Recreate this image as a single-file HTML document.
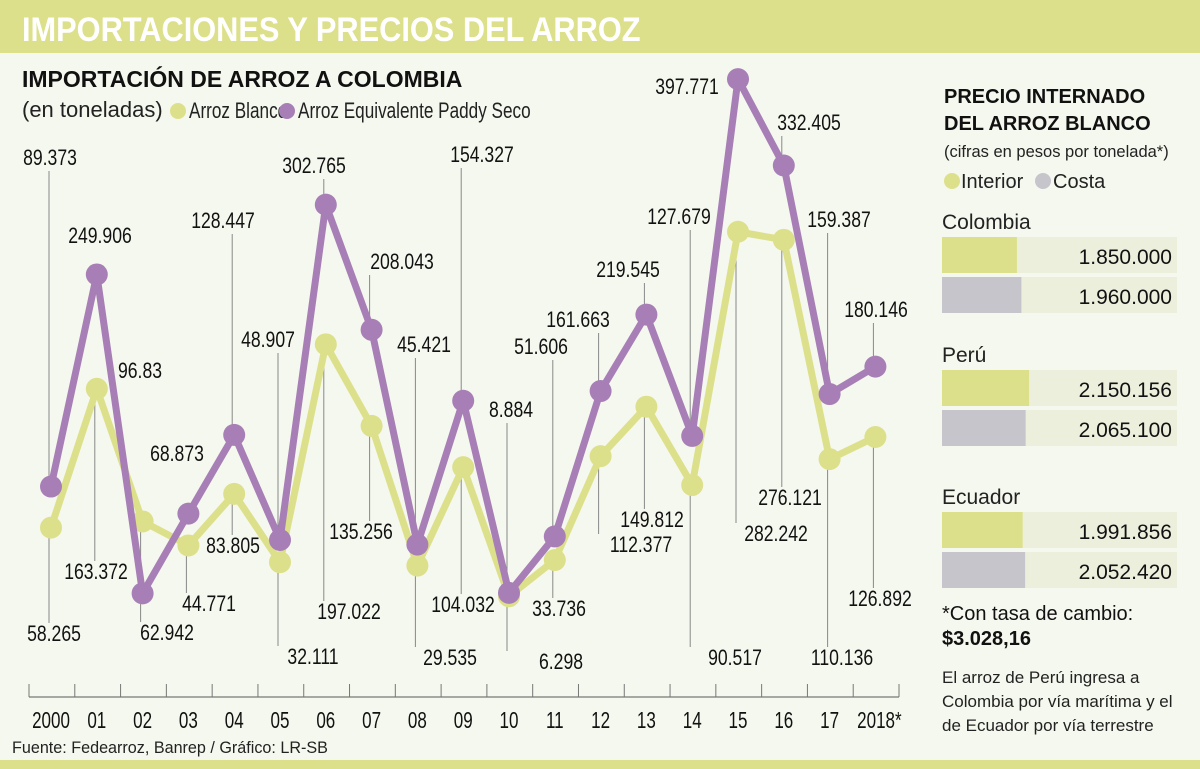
<!DOCTYPE html>
<html><head><meta charset="utf-8">
<style>
html,body{margin:0;padding:0;}
body{width:1200px;height:769px;background:#f5f8ee;position:relative;overflow:hidden;font-family:"Liberation Sans",sans-serif;}
svg{position:absolute;left:0;top:0;}
</style></head>
<body>
<svg id="chart" width="1200" height="769" viewBox="0 0 1200 769" font-family="'Liberation Sans',sans-serif">
<rect x="0" y="0" width="1200" height="53" fill="#dde08a"/>
<text transform="translate(22,41) scale(0.905,1)" font-weight="bold" font-size="34" fill="#fff">IMPORTACIONES Y PRECIOS DEL ARROZ</text>
<rect x="0" y="760" width="1200" height="9" fill="#dde08a"/>
<text x="22" y="87" font-weight="bold" font-size="23" fill="#111">IMPORTACIÓN DE ARROZ A COLOMBIA</text>
<text x="22" y="117" font-size="22" fill="#222">(en toneladas)</text>
<circle cx="178" cy="111" r="8" fill="#dde08a"/>
<text transform="translate(189,118) scale(0.78,1)" font-size="22" fill="#222">Arroz Blanco</text>
<circle cx="287" cy="111" r="8" fill="#a77fb6"/>
<text transform="translate(298,118) scale(0.78,1)" font-size="22" fill="#222">Arroz Equivalente Paddy Seco</text>
<g id="plot"></g>
<text transform="translate(12,753) scale(0.95,1)" font-size="17" fill="#222">Fuente: Fedearroz, Banrep  / Gráfico: LR-SB</text>

<g>
<text x="944" y="103" font-weight="bold" font-size="20" fill="#111">PRECIO INTERNADO</text>
<text x="944" y="130" font-weight="bold" font-size="20" fill="#111">DEL ARROZ BLANCO</text>
<text x="944" y="157" font-size="16.5" fill="#222">(cifras en pesos por tonelada*)</text>
<circle cx="952" cy="181" r="8" fill="#dde08a"/>
<text x="961" y="188" font-size="20" fill="#222">Interior</text>
<circle cx="1043" cy="181" r="8" fill="#c5c5cb"/>
<text x="1053" y="188" font-size="20" fill="#222">Costa</text>
<g id="prices"></g>
<text x="942" y="620" font-size="20" fill="#111">*Con tasa de cambio:</text>
<text x="942" y="645" font-weight="bold" font-size="20" fill="#111">$3.028,16</text>
<text x="942" y="683" font-size="17" fill="#222">El arroz de Perú ingresa a</text>
<text x="942" y="707" font-size="17" fill="#222">Colombia por vía marítima y el</text>
<text x="942" y="731" font-size="17" fill="#222">de Ecuador por vía terrestre</text>
</g>
</svg>
<script>
const years = ["2000","01","02","03","04","05","06","07","08","09","10","11","12","13","14","15","16","17","2018*"];
const blanco = [58265,163372,62942,44771,83805,32111,197022,135256,29535,104032,6298,33736,112377,149812,90517,282242,276121,110136,126892];
const paddy = [89373,249906,8500,68873,128447,48907,302765,208043,45421,154327,8884,51606,161663,219545,127679,397771,332405,159387,180146];
const blancoLabels = ["58.265","163.372","62.942","44.771","83.805","32.111","197.022","135.256","29.535","104.032","6.298","33.736","112.377","149.812","90.517","282.242","276.121","110.136","126.892"];
const paddyLabels = ["89.373","249.906","96.83","68.873","128.447","48.907","302.765","208.043","45.421","154.327","8.884","51.606","161.663","219.545","127.679","397.771","332.405","159.387","180.146"];
// label layout (center x, baseline y, has leader)
const paddyLabelPos = [[50,165,1],[100,243,0],[140,378,0],[177,461,0],[223,228,1],[268,347,1],[314,173,1],[402,269,1],[424,352,1],[482,162,1],[511,417,1],[541,354,1],[578,327,1],[628,277,1],[679,224,1],[687,94,0],[809,130,1],[839,227,1],[876,317,1]];
const blancoLabelPos = [[54,641,1],[96,579,1],[167,640,1],[209,611,1],[233,553,1],[313,664,1],[349,619,1],[361,539,1],[450,665,1],[463,612,1],[561,669,1],[559,616,1],[641,552,1],[652,527,1],[735,665,1],[776,541,1],[790,505,1],[842,665,1],[880,606,1]];

const NS="http://www.w3.org/2000/svg";
const plot=document.getElementById('plot');
const x0=51, step=45.8;
function xs(i){return x0+i*step;}
function ys(v){return 604.6 - v*0.001321;}
function mk(tag,attrs,parent){const e=document.createElementNS(NS,tag);for(const k in attrs)e.setAttribute(k,attrs[k]);(parent||plot).appendChild(e);return e;}
function ctext(s,x,y,size,sx){
  const t=mk('text',{transform:'translate('+x+','+y+') scale('+sx+',1)','text-anchor':'middle','font-size':size,fill:'#111'});
  t.textContent=s;return t;
}

// axis
const axis=mk('line',{x1:29,y1:697,x2:899,y2:697,stroke:'#777','stroke-width':1.2});


for(let i=0;i<=years.length;i++){
  const tx=29+i*(870/19);
  const t=mk('line',{x1:tx,y1:684,x2:tx,y2:697,stroke:'#777','stroke-width':1});
  
  
}
years.forEach((y,i)=>{
  const t=ctext(y,xs(i)+(i==18?4:0),728,23,0.74);
  
  
});

// leaders
function leaders(vals,pos,nameBase){
  vals.forEach((v,i)=>{
    const p=pos[i]; if(!p[2])return;
    const px=xs(i), py=ys(v);
    let y1,y2;
    if(p[1]<py){y1=p[1]+6;y2=py;}else{y1=py;y2=p[1]-18;}
    const l=mk('line',{x1:px-2,y1:y1,x2:px-2,y2:y2,stroke:'#888','stroke-width':1});
    
    
  });
}
leaders(paddy,paddyLabelPos,'paddy');
leaders(blanco,blancoLabelPos,'blanco');

function series(vals,color,name){
  const d=vals.map((v,i)=>(i?'L':'M')+xs(i)+','+ys(v)).join(' ');
  const p=mk('path',{d:d,fill:'none',stroke:color,'stroke-width':7,'stroke-linejoin':'round'});
  
  
  vals.forEach((v,i)=>{
    const c=mk('circle',{cx:xs(i),cy:ys(v),r:11,fill:color});
    
    
  });
}
series(blanco,'#dde08a','blanco');
series(paddy,'#a77fb6','paddy');

function labels(lbls,pos,name){
  lbls.forEach((s,i)=>{
    const t=ctext(s,pos[i][0],pos[i][1],22,0.8);
    
    
  });
}
labels(paddyLabels,paddyLabelPos,'paddy');
labels(blancoLabels,blancoLabelPos,'blanco');

// price panel
const countries=["Colombia","Perú","Ecuador"];
const interior=[1850000,2150156,1991856];
const costa=[1960000,2065100,2052420];
const interiorLabels=["1.850.000","2.150.156","1.991.856"];
const costaLabels=["1.960.000","2.065.100","2.052.420"];
const pg=document.getElementById('prices');
const groupTop=[237,370,512];
function bw(v){return v*0.0000405;}
countries.forEach((c,i)=>{
  const t=mk('text',{x:942,y:groupTop[i]-8,'font-size':21,fill:'#222'},pg);
  t.textContent=c;
  
  
  [[interior,interiorLabels,'#dde08a','interior'],[costa,costaLabels,'#c5c5cb','costa']].forEach((s,j)=>{
    const y=groupTop[i]+j*40;
    const bg=mk('rect',{x:942,y:y,width:235,height:36,fill:'#ecefdc'},pg);
    
    
    const r=mk('rect',{x:942,y:y,width:bw(s[0][i]),height:36,fill:s[2]},pg);
    
    
    const v=mk('text',{x:1172,y:y+27,'text-anchor':'end','font-size':21,fill:'#111'},pg);
    v.textContent=s[1][i];
    
    
  });
});
</script>
</body></html>
